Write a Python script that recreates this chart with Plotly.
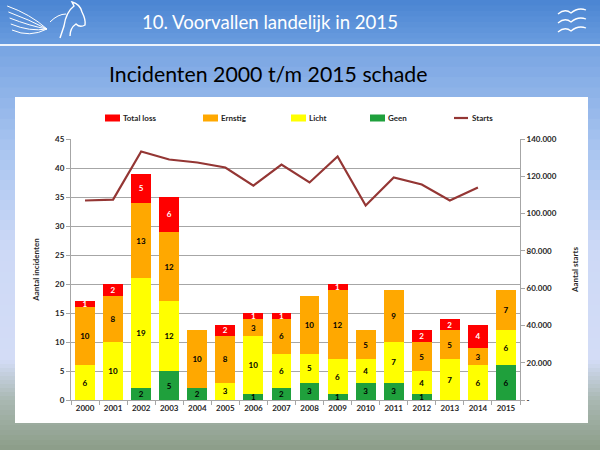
import plotly.graph_objects as go

# Jaren en incidenten per schadecategorie (gestapeld van onder naar boven)
years = [str(y) for y in range(2000, 2016)]
geen = [0, 0, 2, 5, 2, 0, 1, 2, 3, 1, 3, 3, 1, 0, 0, 6]
licht = [6, 10, 19, 12, 0, 3, 10, 6, 5, 6, 4, 7, 4, 7, 6, 6]
ernstig = [10, 8, 13, 12, 10, 8, 3, 6, 10, 12, 5, 9, 5, 5, 3, 7]
total_loss = [1, 2, 5, 6, 0, 2, 1, 1, 0, 1, 0, 0, 2, 2, 4, 0]

# Aantal starts (rechter as), 2015 ontbreekt
start_years = years[:15]
starts = [107000, 107500, 133300, 129000, 127400, 124700, 115000, 126300,
          116700, 130600, 104300, 119400, 115600, 107000, 114000]

left_ticks = list(range(0, 50, 5))
right_ticks = [0, 20000, 40000, 60000, 80000, 100000, 120000, 140000]
right_ticktext = ["-", "20.000", "40.000", "60.000", "80.000", "100.000", "120.000", "140.000"]

RED = "#ff0000"
ORANGE = "#ffa800"
YELLOW = "#ffff00"
GREEN = "#1fa03c"
LINE = "#943634"
GRID = "#a6a6a6"
DARK = "#262626"
FONT = "Lato, 'Open Sans', sans-serif"

# plotgebied in pixels: x 71..520, y 139..400
L, R, T, B = 71, 520, 139, 400


def px(x):
    return (x - L) / (R - L)


def py(y):
    return (B - y) / (B - T)


def path(cmds):
    # pixel-coordinaten -> paper-coordinaten voor een SVG-pad
    out = []
    for c in cmds:
        if isinstance(c, str):
            out.append(c)
        else:
            out.append(f"{px(c[0]):.4f},{py(c[1]):.4f}")
    return " ".join(out)


def labels(vals):
    return [str(v) if v else "" for v in vals]


def mix(c1, c2, t):
    a = [int(c1[i:i + 2], 16) for i in (1, 3, 5)]
    b = [int(c2[i:i + 2], 16) for i in (1, 3, 5)]
    return "#" + "".join(f"{round(x + (y - x) * t):02x}" for x, y in zip(a, b))


def gradient(stops, steps=6):
    # stops: [(pixel_y, kleur), ...] -> smalle horizontale strookjes
    out = []
    for (y0, c0), (y1, c1) in zip(stops, stops[1:]):
        h = (y1 - y0) / steps
        for k in range(steps):
            out.append(dict(type="rect", xref="paper", yref="paper", layer="below",
                            x0=-0.2, x1=1.3,
                            y0=py(y0 + (k + 1) * h + 0.5), y1=py(y0 + k * h),
                            fillcolor=mix(c0, c1, (k + 0.5) / steps), line_width=0))
    return out


fig = go.Figure()
bar_style = dict(textposition="inside", insidetextanchor="middle", textangle=0, width=0.71,
                 hoverinfo="skip", marker_line_width=0, showlegend=False)
fig.add_trace(go.Bar(x=years, y=geen, name="Geen", marker_color=GREEN, text=labels(geen),
                     textfont=dict(color="black", size=8, weight="bold"), **bar_style))
fig.add_trace(go.Bar(x=years, y=licht, name="Licht", marker_color=YELLOW, text=labels(licht),
                     textfont=dict(color="black", size=8, weight="bold"), **bar_style))
fig.add_trace(go.Bar(x=years, y=ernstig, name="Ernstig", marker_color=ORANGE, text=labels(ernstig),
                     textfont=dict(color="black", size=8, weight="bold"), **bar_style))
fig.add_trace(go.Bar(x=years, y=total_loss, name="Total loss", marker_color=RED, text=labels(total_loss),
                     textfont=dict(color="white", size=8, weight="bold"), **bar_style))
fig.add_trace(go.Scatter(x=start_years, y=starts, name="Starts", mode="lines", yaxis="y2",
                         line=dict(color=LINE, width=2.2), hoverinfo="skip", showlegend=False))

shapes = []
shapes += gradient([(0, "#4a84d2"), (44, "#6a9ddf")], steps=8)
shapes += gradient([(46, "#78a4e2"), (150, "#a9c5f0"), (250, "#cdd9f6"), (360, "#d3dcf6"),
                    (400, "#a9b8b2"), (450, "#8c9d88")], steps=10)
shapes.append(dict(type="rect", xref="paper", yref="paper", layer="below",
                   x0=-0.2, x1=1.3, y0=py(46), y1=py(44), fillcolor="#eef4fc", line_width=0))
# witte grafiekkader
shapes.append(dict(type="rect", xref="paper", yref="paper", layer="below",
                   x0=px(15), x1=px(588), y0=py(423), y1=py(97), fillcolor="white", line_width=0))

# logo's in de kopbalk (ruwe schets): vleugel + paardenhoofd links, drie meeuwen rechts
logo = dict(type="path", xref="paper", yref="paper", line=dict(color="white", width=1))
for y_start in (6, 12, 18, 24, 30):
    shapes.append(dict(logo, path=path(["M", (6 + y_start * 0.2, y_start), "Q",
                                        (30, y_start + 8), (47, 29)])))
shapes.append(dict(logo, line=dict(color="white", width=1.4),
                   path=path(["M", (60, 38), "L", (64, 26), "Q", (66, 12), (74, 6),
                              "L", (72, 2), "Q", (80, 4), (82, 12), "Q", (86, 20), (85, 25),
                              "Q", (80, 28), (76, 24), "Q", (70, 28), (70, 36)])))
shapes.append(dict(logo, path=path(["M", (50, 22), "Q", (58, 14), (66, 14)])))
for dy in (0, 9, 18):
    shapes.append(dict(logo, line=dict(color="white", width=1.3),
                       path=path(["M", (558, 14 + dy), "Q", (565, 8 + dy), (571, 13 + dy),
                                  "Q", (578, 7 + dy), (586, 10 + dy)])))

# legenda bovenaan, zoals in Excel: klein blokje + tekst
annotations = []
legend_items = [("Total loss", RED, 105), ("Ernstig", ORANGE, 203), ("Licht", YELLOW, 291),
                ("Geen", GREEN, 370), ("Starts", LINE, 454)]
for name, color, x0 in legend_items:
    if name == "Starts":
        shapes.append(dict(type="line", xref="paper", yref="paper", x0=px(x0), x1=px(x0 + 14),
                           y0=py(118), y1=py(118), line=dict(color=color, width=2.2)))
    else:
        shapes.append(dict(type="rect", xref="paper", yref="paper", x0=px(x0), x1=px(x0 + 15),
                           y0=py(121.5), y1=py(114.5), fillcolor=color, line_width=0))
    annotations.append(dict(text=name, xref="paper", yref="paper", x=px(x0 + 15.5), y=py(118),
                            showarrow=False, xanchor="left", yanchor="middle",
                            font=dict(size=8, weight="bold", color=DARK)))

annotations += [
    dict(text="10. Voorvallen landelijk in 2015", xref="paper", yref="paper",
         x=px(270), y=py(22), showarrow=False, xanchor="center", yanchor="middle",
         font=dict(family=FONT, size=18.6, color="white")),
    dict(text="Incidenten 2000 t/m 2015 schade", xref="paper", yref="paper",
         x=px(268), y=py(74), showarrow=False, xanchor="center", yanchor="middle",
         font=dict(family=FONT, size=21.3, color="black")),
]

fig.update_layout(
    width=600, height=450,
    margin=dict(l=L, r=600 - R, t=T, b=450 - B, autoexpand=False),
    paper_bgcolor="#8fb2e6", plot_bgcolor="rgba(0,0,0,0)",
    barmode="stack", bargap=0.29,
    font=dict(family=FONT, color=DARK, size=8),
    uniformtext=dict(minsize=8, mode="show"),
    shapes=shapes,
    annotations=annotations,
    showlegend=False,
    xaxis=dict(type="category", showgrid=False, showline=True, linecolor=GRID, linewidth=1,
               ticks="outside", tickson="boundaries", ticklen=4, tickcolor=GRID,
               tickfont=dict(size=8, weight="bold", color=DARK)),
    yaxis=dict(range=[0, 45], tickvals=left_ticks, showgrid=True, gridcolor=GRID, gridwidth=1,
               zeroline=False, showline=True, linecolor=GRID, ticks="outside", ticklen=4,
               tickcolor=GRID, tickfont=dict(size=8, weight="bold", color=DARK),
               title=dict(text="Aantal incidenten", standoff=14,
                          font=dict(size=8, weight="bold", color=DARK))),
    yaxis2=dict(range=[0, 140000], overlaying="y", side="right", tickvals=right_ticks,
                ticktext=right_ticktext, showgrid=False, zeroline=False, showline=True,
                linecolor=GRID, ticks="outside", ticklen=4, tickcolor=GRID,
                tickfont=dict(size=8, weight="bold", color=DARK),
                title=dict(text="Aantal starts", standoff=16,
                           font=dict(size=8, weight="bold", color=DARK))),
)

fig.write_html("out.html", config={"displayModeBar": False},
               post_script="document.body.style.margin='0';")
